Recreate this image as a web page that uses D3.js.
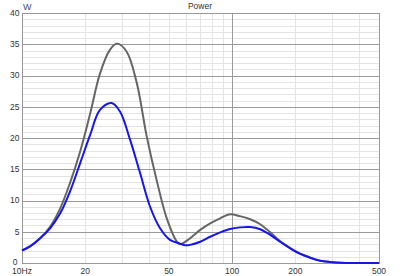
<!DOCTYPE html>
<html>
<head>
<meta charset="utf-8">
<script src="https://cdn.jsdelivr.net/npm/d3@7"></script>
<style>
  body { margin: 0; background: #fff; }
  text { font-family: "Liberation Sans", Arial, sans-serif; }
</style>
</head>
<body>
<div id="chart"></div>
<script>
const width = 400, height = 276;

// data (Hz, W)
const grayFreq = [10, 10.9, 12.2, 13.6, 15.2, 16.9, 18.9, 21.1, 23.5, 26.2, 28.4, 31.5, 35.2, 39.2, 43.7, 48.9, 54.6, 56.5, 63.1, 70.5, 78.6, 87.7, 97.7, 108.8, 121.8, 136, 146, 152, 169, 189, 211, 235, 262, 293, 327, 400, 500];
const grayVal  = [2.0, 2.6, 3.95, 5.8, 8.75, 12.75, 17.8, 23.9, 30.3, 34.1, 35.1, 33.8, 28.75, 20.3, 13.3, 7.1, 3.4, 3.0, 3.95, 5.3, 6.35, 7.15, 7.8, 7.5, 7.0, 6.2, 5.4, 4.9, 3.5, 2.4, 1.5, 0.87, 0.38, 0.16, 0.05, 0.01, 0];
const blueFreq = [10, 10.9, 12.2, 13.6, 15.2, 16.9, 18.9, 21.1, 23.5, 26.7, 29.3, 32.7, 36.5, 40.7, 45.4, 50.6, 56.5, 59.8, 63.1, 70.5, 78.6, 87.7, 97.7, 108.8, 121.8, 136, 146, 152, 169, 189, 211, 235, 262, 293, 327, 400, 500];
const blueVal  = [2.0, 2.65, 3.95, 5.55, 7.95, 11.4, 15.95, 20.5, 24.5, 25.6, 24.2, 19.7, 14.35, 9.0, 5.55, 3.7, 3.1, 2.83, 2.9, 3.4, 4.2, 4.9, 5.45, 5.7, 5.75, 5.4, 4.85, 4.5, 3.4, 2.35, 1.45, 0.85, 0.37, 0.16, 0.05, 0.01, 0];

const xTickVals = [10, 20, 50, 100, 200, 500];
const xTickLabels = ["10Hz", "20", "50", "100", "200", "500"];
const xMinor = [20, 30, 40, 50, 60, 70, 80, 90, 200, 300, 400];
const xMajor = [100];
const yTickVals = [0, 5, 10, 15, 20, 25, 30, 35, 40];

const svg = d3.select("#chart")
    .append("svg")
    .attr("width", width)
    .attr("height", height);

const plotL = 22, plotR = 379, plotT = 13, plotB = 263;

const x = d3.scaleLog().domain([10, 500]).range([plotL, plotR]);
const y = d3.scaleLinear().domain([0, 40]).range([plotB, plotT]);

const px = v => Math.round(v) + 0.5;

// minor horizontal grid (every 1 W)
const g = svg.append("g");
g.selectAll(".hmin")
    .data(d3.range(1, 40).filter(d => d % 5 != 0))
    .join("line")
    .attr("x1", plotL).attr("x2", plotR)
    .attr("y1", d => px(y(d))).attr("y2", d => px(y(d)))
    .attr("stroke", "#e4e4e4");

// vertical minor grid
g.selectAll(".vmin")
    .data(xMinor)
    .join("line")
    .attr("x1", d => px(x(d))).attr("x2", d => px(x(d)))
    .attr("y1", plotT).attr("y2", plotB)
    .attr("stroke", "#e4e4e4");

// major horizontal grid (every 5 W)
g.selectAll(".hmaj")
    .data(yTickVals.slice(1, -1))
    .join("line")
    .attr("x1", plotL).attr("x2", plotR)
    .attr("y1", d => px(y(d))).attr("y2", d => px(y(d)))
    .attr("stroke", "#9a9a9a");

g.selectAll(".vmaj")
    .data(xMajor)
    .join("line")
    .attr("x1", d => px(x(d))).attr("x2", d => px(x(d)))
    .attr("y1", plotT).attr("y2", plotB)
    .attr("stroke", "#9a9a9a");

// frame
svg.append("rect")
    .attr("x", plotL + 0.5).attr("y", plotT + 0.5)
    .attr("width", plotR - plotL).attr("height", plotB - plotT)
    .attr("fill", "none")
    .attr("stroke", "#9a9a9a");

// curves
const line = d3.line()
    .x(d => x(d[0]))
    .y(d => y(d[1]))
    .curve(d3.curveCatmullRom.alpha(0.5));

svg.append("path")
    .attr("d", line(grayFreq.map((f, i) => [f, grayVal[i]])))
    .attr("fill", "none")
    .attr("stroke", "#666666")
    .attr("stroke-width", 2);

svg.append("path")
    .attr("d", line(blueFreq.map((f, i) => [f, blueVal[i]])))
    .attr("fill", "none")
    .attr("stroke", "#1515f0")
    .attr("stroke-width", 2);

// y labels
svg.selectAll(".ylab")
    .data(yTickVals)
    .join("text")
    .attr("x", d => d == 0 ? 17.5 : 19.5)
    .attr("y", d => y(d))
    .attr("dy", d => d == 0 ? "0.2em" : "0.35em")
    .attr("text-anchor", "end")
    .attr("font-size", 8.5)
    .attr("fill", "#333")
    .text(d => d);

// x labels
svg.selectAll(".xlab")
    .data(xTickVals)
    .join("text")
    .attr("x", d => x(d))
    .attr("y", 273.5)
    .attr("text-anchor", "middle")
    .attr("font-size", 8.5)
    .attr("fill", "#333")
    .text((d, i) => xTickLabels[i]);

// unit + title
svg.append("text")
    .attr("x", 23)
    .attr("y", 10)
    .attr("font-size", 9)
    .attr("fill", "#3a4a8c")
    .text("W");

svg.append("text")
    .attr("x", 200)
    .attr("y", 9)
    .attr("text-anchor", "middle")
    .attr("font-size", 8.5)
    .attr("fill", "#333")
    .text("Power");
</script>
</body>
</html>
